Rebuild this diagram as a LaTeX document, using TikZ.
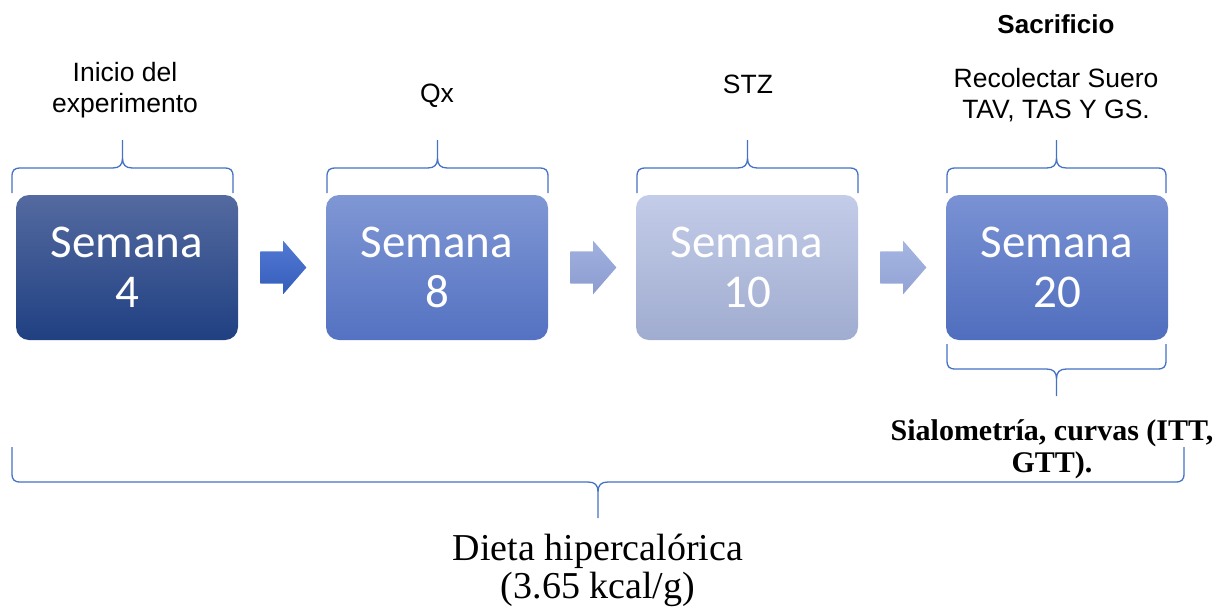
\documentclass[tikz,border=0pt]{standalone}
\usepackage{fontspec}
\setmainfont{Liberation Sans}
\newfontfamily\boxfont{Carlito}
\newfontfamily\notefont{Liberation Serif}
\usetikzlibrary{shapes.arrows,calc}

\definecolor{bracecol}{RGB}{68,114,196}
\definecolor{wkA}{RGB}{84,106,160}
\definecolor{wkAb}{RGB}{32,64,130}
\definecolor{wkB}{RGB}{128,151,212}
\definecolor{wkBb}{RGB}{84,114,194}
\definecolor{wkC}{RGB}{195,204,232}
\definecolor{wkCb}{RGB}{160,172,208}
\definecolor{wkD}{RGB}{122,146,212}
\definecolor{wkDb}{RGB}{80,110,190}

\tikzset{
  week/.style={rounded corners=13pt, minimum width=222pt, minimum height=145pt,
    inner sep=0pt, align=center, text=white,
    font=\boxfont\fontsize{47}{50}\selectfont},
  blockarrow/.style={single arrow, single arrow head extend=10.5pt,
    single arrow tip angle=98, minimum height=46pt, inner xsep=0pt, inner ysep=16pt,
    anchor=tail},
  label/.style={align=center, inner sep=0pt, font=\fontsize{26.5}{31}\selectfont},
  brc/.style={draw=bracecol, line width=1.3pt},
}

% curly brace: #1 left x, #2 right x, #3 y of the ends, #4 y of the bar, #5 y of the tip
\newcommand{\officebrace}[5]{%
  \pgfmathsetmacro{\bm}{(#1+#2)/2}%
  \pgfmathsetmacro{\sgA}{((#3)>(#4))?1:-1}%
  \draw[brc] (#1,#3) -- (#1,#4+9*\sgA) .. controls (#1,#4+2*\sgA) and (#1+2,#4) .. (#1+9,#4)
    -- (\bm-10,#4) .. controls (\bm-3,#4) and (\bm,#4-3*\sgA) .. (\bm,#4-10*\sgA) -- (\bm,#5)
    (\bm,#4-10*\sgA) .. controls (\bm,#4-3*\sgA) and (\bm+3,#4) .. (\bm+10,#4)
    -- (#2-9,#4) .. controls (#2-2,#4) and (#2,#4+2*\sgA) .. (#2,#4+9*\sgA) -- (#2,#3);}

\begin{document}
\begin{tikzpicture}[x=1pt,y=-1pt]
\useasboundingbox (0,0) rectangle (1222,614);

% week boxes
\node[week, top color=wkA, bottom color=wkAb] (w4)  at (127,267.5)  {Semana\\4};
\node[week, top color=wkB, bottom color=wkBb] (w8)  at (437,267.5)  {Semana\\8};
\node[week, top color=wkC, bottom color=wkCb] (w10) at (747,267.5)  {Semana\\10};
\node[week, top color=wkD, bottom color=wkDb] (w20) at (1057,267.5) {Semana\\20};

% block arrows between the weeks
\node[blockarrow, top color={rgb,255:red,82;green,122;blue,212}, bottom color={rgb,255:red,52;green,92;blue,186}]
  (a1) at ($(w4.east)+(22,0)$) {};
\node[blockarrow, top color={rgb,255:red,160;green,176;blue,222}, bottom color={rgb,255:red,140;green,156;blue,208}]
  (a2) at ($(w8.east)+(22,0)$) {};
\node[blockarrow, top color={rgb,255:red,166;green,182;blue,226}, bottom color={rgb,255:red,146;green,162;blue,212}]
  (a3) at ($(w10.east)+(22,0)$) {};

% braces above the weeks
\officebrace{12}{233}{193}{168}{140}
\officebrace{327}{548}{193}{168}{140}
\officebrace{637}{858}{193}{168}{140}
\officebrace{947}{1166}{193}{168}{140}
% brace below week 20
\officebrace{947}{1166}{344}{369}{396}
% brace below the whole timeline
\officebrace{12}{1184}{447}{482}{518}

% labels above (base = baseline of the last line)
\node[label, anchor=base] (l4) at (125,112) {Inicio del\\experimento};
\node[label, anchor=base] (l8) at (437,102) {Qx};
\node[label, anchor=base] (l10) at (748,93) {STZ};
\node[label, anchor=base, font=\bfseries\fontsize{26}{30}\selectfont] (sac) at (1056,33) {Sacrificio};
\node[label, anchor=base] (l20) at (1056,118) {Recolectar Suero\\TAV, TAS Y GS.};

% labels below
\node[label, anchor=base, font=\notefont\bfseries\fontsize{30}{32}\selectfont] (s20) at (1052,472)
  {Sialometría, curvas (ITT,\\GTT).};
\node[label, anchor=base, font=\notefont\fontsize{38}{38}\selectfont] (diet) at (598,598)
  {Dieta hipercalórica\\(3.65 kcal/g)};
\end{tikzpicture}
\end{document}
